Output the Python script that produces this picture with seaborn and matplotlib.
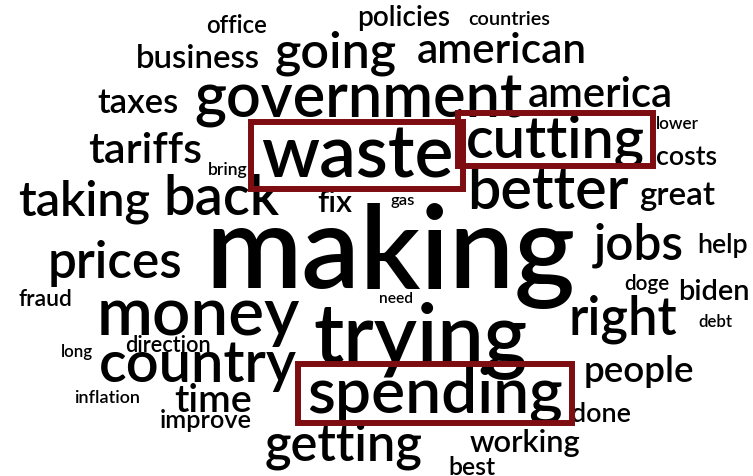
import matplotlib
matplotlib.use("Agg")
import matplotlib.pyplot as plt
import matplotlib.patches as mpatches
import seaborn as sns

# words of the cloud
words = ["office", "policies", "countries", "business", "going", "american",
         "taxes", "government", "america", "lower", "tariffs", "bring",
         "waste", "cutting", "costs", "taking", "back", "fix", "gas",
         "better", "great", "making", "prices", "jobs", "help", "fraud",
         "need", "doge", "biden", "money", "right", "debt", "trying", "long",
         "direction", "country", "people", "inflation", "time", "spending",
         "improve", "done", "getting", "working", "best"]

# words framed in a red box
highlighted = ["waste", "cutting", "spending"]

# layout: left edge, right edge, baseline (pixels)
x_left = [206, 357, 468, 136, 275, 417, 97, 194, 528, 656, 88, 208,
          261, 466, 656, 18, 163, 317, 391, 467, 639, 205, 48, 594, 697, 19,
          379, 624, 678, 97, 569, 698, 313, 61, 125, 99, 584, 74, 174, 307,
          160, 571, 265, 470, 448]
x_right = [267, 450, 550, 261, 397, 587, 178, 522, 673, 699, 202, 248,
           453, 645, 717, 150, 279, 352, 415, 629, 715, 575, 183, 684, 748, 73,
           413, 669, 750, 300, 678, 732, 528, 93, 211, 297, 695, 140, 252, 563,
           252, 631, 423, 581, 495]
baseline = [33, 26, 25, 68, 68, 63, 113, 117, 107, 129, 163, 175,
            178, 157, 165, 215, 215, 212, 205, 209, 205, 288, 278, 260, 253, 306,
            303, 290, 300, 335, 335, 327, 362, 357, 352, 382, 382, 403, 412, 413,
            428, 422, 460, 452, 475]

W, H = 753, 476
sns.set_theme(style="white")
plt.rcParams["font.family"] = ["Lato", "DejaVu Sans"]

fig = plt.figure(figsize=(W / 100, H / 100), dpi=100)
ax = fig.add_axes([0, 0, 1, 1])
ax.set_xlim(0, W)
ax.set_ylim(H, 0)
ax.axis("off")
renderer = fig.canvas.get_renderer()

box_color = "#7d0d10"
for w, x0, x1, yb in zip(words, x_left, x_right, baseline):
    t = ax.text(x0, yb, w, fontsize=20, fontweight="semibold", color="black",
                ha="left", va="baseline")
    bb = t.get_window_extent(renderer)
    fs = 20 * (x1 - x0) / bb.width
    t.set_fontsize(fs)
    if w in highlighted:
        fs_px = fs * 100 / 72
        px = 0.14 * fs_px
        top = yb - 0.76 * fs_px
        bot = yb + 0.15 * fs_px
        rect = mpatches.Rectangle((x0 - px, top), (x1 - x0) + 2 * px, bot - top,
                                  fill=False, edgecolor=box_color, linewidth=4.3,
                                  zorder=5)
        ax.add_patch(rect)

fig.savefig("out.png", dpi=100, facecolor="white")
